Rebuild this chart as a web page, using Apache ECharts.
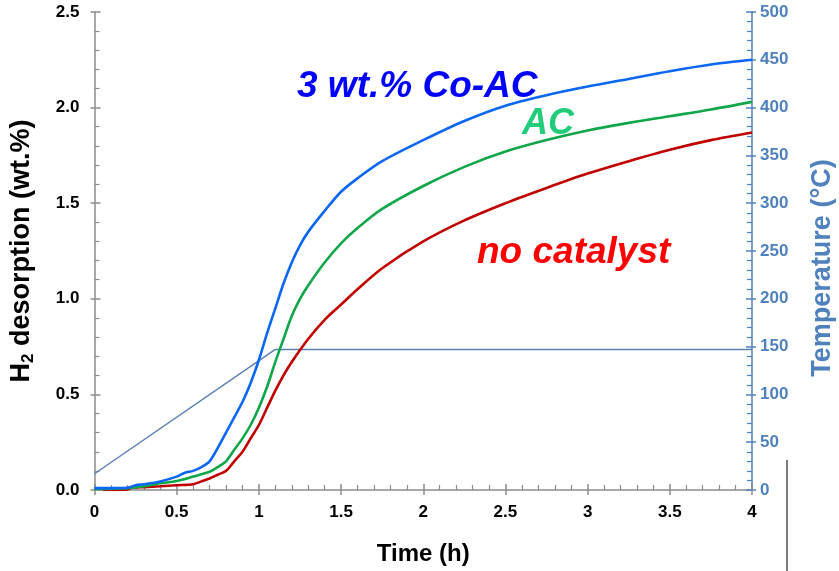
<!DOCTYPE html>
<html>
<head>
<meta charset="utf-8">
<script src="https://cdn.jsdelivr.net/npm/echarts@6/dist/echarts.min.js"></script>
<style>
  html, body { margin: 0; padding: 0; background: #fff; }
  #chart { width: 839px; height: 571px; }
</style>
</head>
<body>
<div id="chart"></div>
<script>
// H2 desorption curves (wt.%) versus time (h), with the furnace temperature on the right axis
const coTime = [0, 0.1, 0.2, 0.25, 0.3, 0.4, 0.5, 0.55, 0.6, 0.65, 0.7, 0.75, 0.8, 0.85, 0.9, 0.95, 1.0, 1.05, 1.1, 1.15, 1.2, 1.25, 1.3, 1.4, 1.5, 1.6, 1.75, 2.0, 2.25, 2.5, 2.75, 3.0, 3.25, 3.5, 3.75, 4.0];
const coH2   = [0.01, 0.01, 0.012, 0.025, 0.03, 0.045, 0.07, 0.09, 0.10, 0.12, 0.15, 0.22, 0.30, 0.38, 0.46, 0.56, 0.68, 0.82, 0.95, 1.08, 1.19, 1.28, 1.35, 1.46, 1.56, 1.63, 1.72, 1.83, 1.93, 2.01, 2.065, 2.11, 2.15, 2.19, 2.225, 2.25];

const acTime = [0, 0.2, 0.3, 0.4, 0.5, 0.6, 0.7, 0.75, 0.8, 0.85, 0.9, 0.95, 1.0, 1.05, 1.1, 1.15, 1.2, 1.25, 1.3, 1.4, 1.5, 1.6, 1.75, 2.0, 2.25, 2.5, 2.75, 3.0, 3.25, 3.5, 3.75, 4.0];
const acH2   = [0.005, 0.01, 0.02, 0.035, 0.047, 0.07, 0.095, 0.12, 0.15, 0.21, 0.27, 0.34, 0.43, 0.54, 0.67, 0.79, 0.91, 1.00, 1.07, 1.19, 1.29, 1.37, 1.47, 1.59, 1.69, 1.77, 1.83, 1.88, 1.92, 1.955, 1.99, 2.03];

const ncTime = [0.05, 0.2, 0.22, 0.3, 0.4, 0.5, 0.6, 0.65, 0.7, 0.75, 0.8, 0.85, 0.9, 0.95, 1.0, 1.05, 1.1, 1.15, 1.2, 1.3, 1.4, 1.5, 1.6, 1.75, 2.0, 2.25, 2.5, 2.75, 3.0, 3.25, 3.5, 3.75, 4.0];
const ncH2   = [0.0, 0.003, 0.01, 0.015, 0.02, 0.025, 0.03, 0.045, 0.06, 0.08, 0.10, 0.15, 0.20, 0.27, 0.34, 0.43, 0.52, 0.60, 0.67, 0.79, 0.89, 0.97, 1.05, 1.16, 1.30, 1.41, 1.50, 1.58, 1.655, 1.72, 1.78, 1.83, 1.87];

const tempTime = [0, 1.1, 4.0];
const tempC    = [17, 147, 147];

const labelCo = '3 wt.% Co-AC';
const labelAc = 'AC';
const labelNc = 'no catalyst';
const tempTitle = 'Temperature (°C)';

const FONT = '"Liberation Sans", Arial, sans-serif';
const AXIS_GREY = '#8c8c8c';
const TEMP_BLUE = '#4f81bd';

const zip = (xs, ys) => xs.map((x, i) => [x, ys[i]]);

const chart = echarts.init(document.getElementById('chart'), null, { renderer: 'canvas' });

const tickLabel = { fontFamily: FONT, fontWeight: 'bold', fontSize: 17, color: '#000' };

chart.setOption({
  animation: false,
  backgroundColor: '#fff',
  grid: { left: 93, right: 87, top: 12, bottom: 77 },
  xAxis: [
    {
      type: 'value', min: 0, max: 4, interval: 0.5,
      name: 'Time (h)', nameLocation: 'middle', nameGap: 52,
      nameTextStyle: { fontFamily: FONT, fontWeight: 'bold', fontSize: 24, color: '#000' },
      axisLine: { onZero: false, lineStyle: { color: AXIS_GREY, width: 1.5 } },
      axisTick: { inside: true, length: 6, lineStyle: { color: AXIS_GREY, width: 1.5 } },
      minorTick: { show: true, splitNumber: 5, length: 5, lineStyle: { color: AXIS_GREY, width: 1.2 } },
      axisLabel: Object.assign({ margin: 14 }, tickLabel),
      splitLine: { show: false }
    },
    {
      type: 'value', min: 0, max: 4, interval: 0.5, position: 'bottom',
      axisLine: { show: false, onZero: false },
      axisTick: { inside: false, length: 5, lineStyle: { color: AXIS_GREY, width: 1.5 } },
      axisLabel: { show: false }, splitLine: { show: false }
    }
  ],
  yAxis: [
    {
      type: 'value', min: 0, max: 2.5, interval: 0.5, position: 'left',
      name: '{a|H}{s|2}{a| desorption (wt.%)}', nameLocation: 'middle', nameGap: 58, nameRotate: 90,
      nameTextStyle: {
        rich: {
          a: { fontFamily: FONT, fontWeight: 'bold', fontSize: 27, color: '#000', lineHeight: 30 },
          s: { fontFamily: FONT, fontWeight: 'bold', fontSize: 17, color: '#000', lineHeight: 30, verticalAlign: 'bottom', padding: [11, 0, 0, 0] }
        }
      },
      axisLine: { show: true, onZero: false, lineStyle: { color: AXIS_GREY, width: 1.5 } },
      axisTick: { show: true, inside: true, length: 6, lineStyle: { color: AXIS_GREY, width: 1.5 } },
      minorTick: { show: true, splitNumber: 5, length: 5, lineStyle: { color: AXIS_GREY, width: 1.2 } },
      axisLabel: Object.assign({ margin: 15, formatter: v => v.toFixed(1) }, tickLabel),
      splitLine: { show: false }
    },
    {
      type: 'value', min: 0, max: 500, interval: 50, position: 'right',
      axisLine: { show: true, onZero: false, lineStyle: { color: TEMP_BLUE, width: 1.5 } },
      axisTick: { show: true, inside: true, length: 6, lineStyle: { color: TEMP_BLUE, width: 1.5 } },
      minorTick: { show: true, splitNumber: 5, length: 5, lineStyle: { color: TEMP_BLUE, width: 1.2 } },
      axisLabel: { margin: 8, fontFamily: FONT, fontWeight: 'bold', fontSize: 17, color: TEMP_BLUE },
      splitLine: { show: false }
    },
    {
      type: 'value', min: 0, max: 2.5, interval: 0.5, position: 'left',
      axisLine: { show: false, onZero: false },
      axisTick: { show: true, inside: false, length: 4, lineStyle: { color: AXIS_GREY, width: 1.5 } },
      axisLabel: { show: false }, splitLine: { show: false }
    },
    {
      type: 'value', min: 0, max: 500, interval: 50, position: 'right',
      axisLine: { show: false, onZero: false },
      axisTick: { show: true, inside: false, length: 4, lineStyle: { color: TEMP_BLUE, width: 1.5 } },
      axisLabel: { show: false }, splitLine: { show: false }
    }
  ],
  series: [
    {
      name: 'Temperature', type: 'line', xAxisIndex: 0, yAxisIndex: 1,
      data: zip(tempTime, tempC), showSymbol: false,
      lineStyle: { color: '#5b80b4', width: 1.5 }
    },
    {
      name: labelNc, type: 'line', xAxisIndex: 0, yAxisIndex: 0,
      data: zip(ncTime, ncH2), showSymbol: false, smooth: 0.3,
      lineStyle: { color: '#c00000', width: 2.6 }
    },
    {
      name: labelAc, type: 'line', xAxisIndex: 0, yAxisIndex: 0,
      data: zip(acTime, acH2), showSymbol: false, smooth: 0.3,
      lineStyle: { color: '#10a64a', width: 2.6 }
    },
    {
      name: labelCo, type: 'line', xAxisIndex: 0, yAxisIndex: 0,
      data: zip(coTime, coH2), showSymbol: false, smooth: 0.3,
      lineStyle: { color: '#0a66f5', width: 2.6 }
    }
  ],
  graphic: [
    { type: 'text', left: 297, top: 68, style: { text: labelCo, fill: '#0000ff', font: 'italic bold 37px ' + FONT } },
    { type: 'text', left: 522, top: 106, style: { text: labelAc, fill: '#22cc7a', font: 'italic bold 36px ' + FONT } },
    { type: 'text', left: 477, top: 234, style: { text: labelNc, fill: '#ff0000', font: 'italic bold 37px ' + FONT } },
    {
      type: 'text', x: 823, y: 268, rotation: Math.PI / 2,
      style: { text: tempTitle, fill: TEMP_BLUE, font: 'bold 27px ' + FONT, align: 'center', verticalAlign: 'middle' }
    },
    { type: 'line', shape: { x1: 787, y1: 460, x2: 787, y2: 571 }, style: { stroke: '#7a7a7a', lineWidth: 2 } }
  ]
});
</script>
</body>
</html>
